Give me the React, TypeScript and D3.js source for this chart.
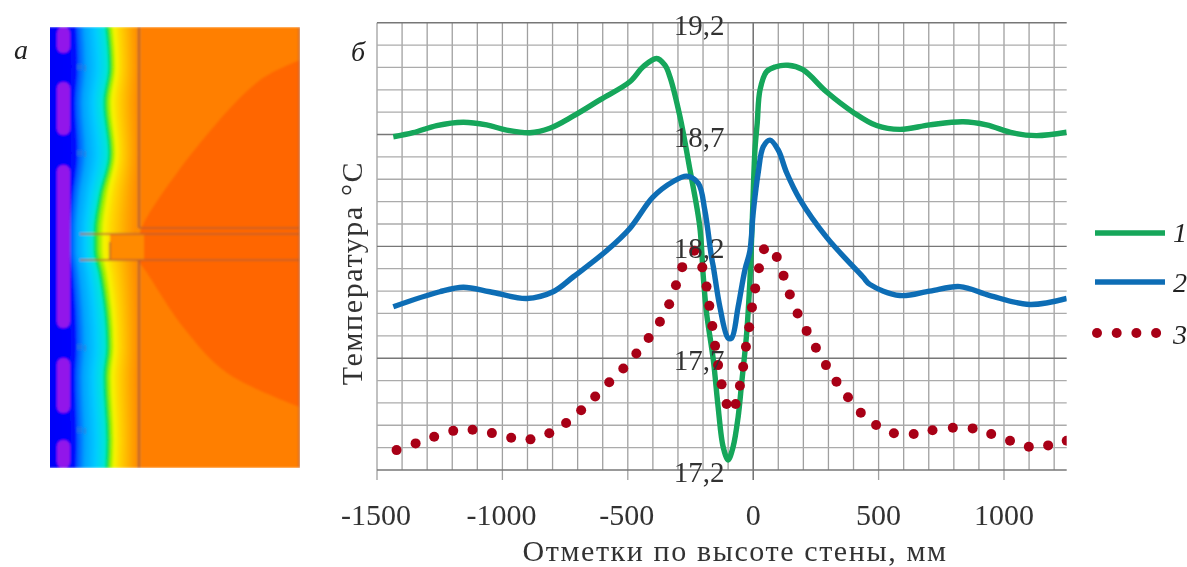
import React from "react";
import * as d3 from "d3";

const greenX = [-1435,-1356,-1262,-1156,-1063,-983,-890,-811,-717,-611,-492,-439,-385,-352,-332,-292,-252,-213,-199,-186,-159,-140,-120,-100,-80,-60,-46,-26,-13,-3,7,16,27,53,87,139,198,293,398,492,585,704,837,930,1036,1130,1250];
const greenT = [18.69,18.708,18.74,18.755,18.743,18.72,18.708,18.728,18.783,18.855,18.936,19.003,19.04,19.01,18.958,18.78,18.541,18.288,18.064,17.902,17.692,17.483,17.304,17.245,17.304,17.438,17.589,17.812,18.05,18.34,18.631,18.751,18.899,18.981,19.002,19.01,18.99,18.89,18.8,18.74,18.723,18.743,18.757,18.743,18.707,18.695,18.71];
const blueX = [-1435,-1250,-1156,-1050,-903,-798,-717,-585,-492,-400,-319,-265,-219,-193,-166,-159,-133,-100,-86,-60,-33,-13,0,20,40,67,100,133,186,293,437,465,585,704,824,944,1103,1250];
const blueT = [17.93,17.997,18.017,17.997,17.967,17.997,18.064,18.18,18.28,18.42,18.49,18.514,18.482,18.362,18.15,18.109,17.93,17.79,17.79,17.93,18.095,18.18,18.35,18.53,18.645,18.675,18.63,18.53,18.41,18.24,18.064,18.03,17.98,18.0,18.02,17.98,17.94,17.967];
const redX = [-1422,-1346,-1272,-1196,-1119,-1042,-965,-888,-813,-746,-686,-630,-574,-518,-466,-417,-372,-335,-308,-283,-235,-203,-186,-175,-163,-152,-140,-126,-106,-70,-53,-40,-29,-16,-5,8,23,43,94,121,146,177,213,250,290,332,378,429,490,561,640,715,796,875,949,1024,1099,1176,1250];
const redT = [17.289,17.319,17.349,17.375,17.38,17.365,17.344,17.337,17.364,17.41,17.467,17.529,17.592,17.654,17.721,17.79,17.863,17.941,18.026,18.107,18.18,18.106,18.02,17.934,17.844,17.755,17.669,17.583,17.495,17.495,17.577,17.662,17.751,17.838,17.927,18.012,18.102,18.187,18.152,18.069,17.985,17.9,17.822,17.747,17.669,17.595,17.525,17.456,17.401,17.364,17.361,17.378,17.389,17.386,17.361,17.331,17.304,17.31,17.331];

const xTickValues = [-1500,-1000,-500,0,500,1000];
const yTickValues = [19.2,18.7,18.2,17.7,17.2];
const yTickLabels = ["19,2","18,7","18,2","17,7","17,2"];
const legendLabels = ["1","2","3"];
const legendDots = [0,1,2,3];

// left panel: temperature field, read in panel units (0-250 across, 0-441 down)
const contourY = [0,40,76,126,170,206,223,246,320,350,413,441];
const contourX = [57,60,55,60,50,45,45,50,58,55,58,57];
const bandOffsets = [-57,-31,-29,-22,-12,-3,0,3,7,14,24,33];
const bandColors = ["#0000f8","#0008ff","#0058ff","#00a4ff","#00ccff","#00e6d8","#00dc50","#90f000","#f6f400","#ffd000","#ffa800","#ff8a00"];
const blobY = [[0,26],[55,108],[138,301],[331,386],[413,441]];
const markY = [40,126,320,403];
const lensTopX = [250,210,150,97,90];
const lensTopY = [33,53,116,190,205];
const lensBotX = [90,97,133,177,250];
const lensBotY = [236,246,300,346,380];

const W = 1187, H = 567;
const x = d3.scaleLinear().domain([-1500, 1000]).range([377, 1004]);
const y = d3.scaleLinear().domain([17.2, 19.2]).range([470, 22.7]);
const px = d3.scaleLinear().domain([0, 250]).range([50, 300]);
const py = d3.scaleLinear().domain([0, 441]).range([27, 468]);
const X_END = 1250;

const path = (xs: number[], ts: number[]) =>
  d3.line<number>().x((d) => x(xs[d])).y((d) => y(ts[d])).curve(d3.curveCatmullRom.alpha(0.5))(xs.map((_, i) => i)) as string;

const minorX = d3.range(-1500, X_END + 1, 100);
const minorY = d3.range(0, 21).map((i) => 17.2 + i * 0.1);

const bands: { color: string; offset: number }[] = [];
for (let i = 0; i < bandColors.length - 1; i++) {
  const c = d3.interpolateRgb(bandColors[i], bandColors[i + 1]);
  for (let k = 0; k < 6; k++) {
    bands.push({ color: c(k / 6), offset: bandOffsets[i] + ((bandOffsets[i + 1] - bandOffsets[i]) * k) / 6 });
  }
}

function bandPath(offset: number) {
  const strength = offset < 0 ? Math.max(0, 1 + offset / 57) : 1;
  const meanX = d3.mean(contourX) as number;
  const pts = contourY.map((cy, i) => {
    const right = offset > 0 ? Math.max(0, 1 - offset / 40) : 1;
    return [px(meanX + (contourX[i] - meanX) * strength * right + offset), py(cy)] as [number, number];
  });
  const edge = d3.line<[number, number]>().curve(d3.curveMonotoneY)(pts) as string;
  return `${edge}L${px(250)},${py(441)}L${px(250)},${py(0)}Z`;
}

const lensPath = () => {
  const top = d3.line<number>().x((d) => px(lensTopX[d])).y((d) => py(lensTopY[d])).curve(d3.curveCatmullRom)(lensTopX.map((_, i) => i)) as string;
  const bot = d3.line<number>().x((d) => px(lensBotX[d])).y((d) => py(lensBotY[d])).curve(d3.curveCatmullRom)(lensBotX.map((_, i) => i)) as string;
  return `${top}L${bot.slice(1)}Z`;
};

const serif = "'Liberation Serif', serif";
const tickColor = "#333";
const GREEN = "#12a65a";
const BLUE = "#0c6db5";
const RED = "#a80018";

export default function App() {
  return (
    <svg width={W} height={H} viewBox={`0 0 ${W} ${H}`} style={{ position: "absolute", left: 0, top: 0, display: "block", background: "#fff" }}>
      <defs>
        <clipPath id="plot"><rect x={370} y={15} width={x(X_END) - 370} height={470} /></clipPath>
        <clipPath id="panel"><rect x={px(0)} y={py(0)} width={250} height={441} /></clipPath>
        <filter id="soft"><feGaussianBlur stdDeviation={0.9} /></filter>
        <filter id="soft2"><feGaussianBlur stdDeviation={0.45} /></filter>
      </defs>

      {/* panel a */}
      <g clipPath="url(#panel)">
        <g filter="url(#soft)">
          <rect x={px(0)} y={py(0)} width={250} height={441} fill="#0000f8" />
          {bands.map((b, i) => <path key={i} d={bandPath(b.offset)} fill={b.color} />)}
          <rect x={px(91)} y={py(0)} width={159} height={441} fill="#ff7f00" />
          <path d={lensPath()} fill="#ff6600" />
          <rect x={px(60)} y={py(207)} width={34} height={26} fill="#ff8a00" />
          {blobY.map(([a, b], i) => (
            <rect key={i} x={px(7)} y={py(a)} width={13} height={py(b) - py(a)} rx={6} fill="#9212ea" />
          ))}
          {markY.map((m) => (
            <path key={m} d={`M${px(28)},${py(m) + 3}v-6M${px(31)},${py(m) + 3}v-6M${px(35)},${py(m) + 4}v-6`} stroke="#2a7ad8" strokeWidth={1.4} fill="none" />
          ))}
          <g stroke="#b8622a" fill="none" strokeWidth={1.6}>
            <path d={`M${px(89)},${py(0)}V${py(201)}`} strokeWidth={2.4} />
            <path d={`M${px(89)},${py(233)}V${py(441)}`} strokeWidth={2.4} />
            <path d={`M${px(89)},${py(201)}H${px(250)}`} />
            <path d={`M${px(30)},${py(207)}H${px(250)}`} />
            <path d={`M${px(30)},${py(233)}H${px(250)}`} />
            <path d={`M${px(60)},${py(215)}V${py(232)}`} />
            <path d={`M${px(249.5)},${py(0)}V${py(441)}`} />
          </g>
        </g>
      </g>

      <g filter="url(#soft2)">
        {/* grid */}
        <g fill="none">
          {minorX.map((v) => (
            <line key={v} x1={x(v)} x2={x(v)} y1={y(19.2)} y2={xTickValues.includes(v) ? y(17.2) + 10 : y(17.2)}
              stroke={v === 0 ? "#666" : "#a0a0a0"} strokeWidth={v === 0 ? 1.4 : 1.3} />
          ))}
          {minorY.map((v, i) => (
            <line key={i} x1={x(-1500)} x2={x(X_END)} y1={y(v)} y2={y(v)}
              stroke={i % 5 === 0 ? "#777" : "#ababab"} strokeWidth={i % 5 === 0 ? 1.4 : 1.3} />
          ))}
        </g>

        {/* series */}
        <g clipPath="url(#plot)">
          <path d={path(greenX, greenT)} fill="none" stroke={GREEN} strokeWidth={5.4} strokeLinejoin="round" />
          <path d={path(blueX, blueT)} fill="none" stroke={BLUE} strokeWidth={5.4} strokeLinejoin="round" />
          {redX.map((v, i) => <circle key={i} cx={x(v)} cy={y(redT[i])} r={5} fill={RED} />)}
        </g>

        {/* tick labels */}
        <g fontFamily={serif} fill={tickColor}>
          {xTickValues.map((v) => (
            <text key={v} x={x(v) - (v < 0 ? 1 : 0)} y={525} fontSize={30} textAnchor="middle">{v}</text>
          ))}
          {yTickValues.map((v, i) => (
            <text key={v} x={699} y={y(v) + 12} fontSize={29} textAnchor="middle">{yTickLabels[i]}</text>
          ))}
          <text x={735} y={561} fontSize={30} letterSpacing={1.6} textAnchor="middle">Отметки по высоте стены, мм</text>
          <text transform="translate(362,273) rotate(-90)" fontSize={30} letterSpacing={1.6} textAnchor="middle">Температура °С</text>
        </g>

        {/* legend */}
        <g>
          <line x1={1095} x2={1165} y1={233} y2={233} stroke={GREEN} strokeWidth={5.4} />
          <line x1={1095} x2={1165} y1={282} y2={282} stroke={BLUE} strokeWidth={5.4} />
          {legendDots.map((d) => <circle key={d} cx={1097 + d * 19.7} cy={333} r={5} fill={RED} />)}
          <g fontFamily={serif} fontStyle="italic" fontSize={28} fill="#222" textAnchor="middle">
            {legendLabels.map((l, i) => <text key={l} x={1180} y={[242, 292, 344][i]}>{l}</text>)}
            <text x={21} y={59}>а</text>
            <text x={358} y={61}>б</text>
          </g>
        </g>
      </g>
    </svg>
  );
}
